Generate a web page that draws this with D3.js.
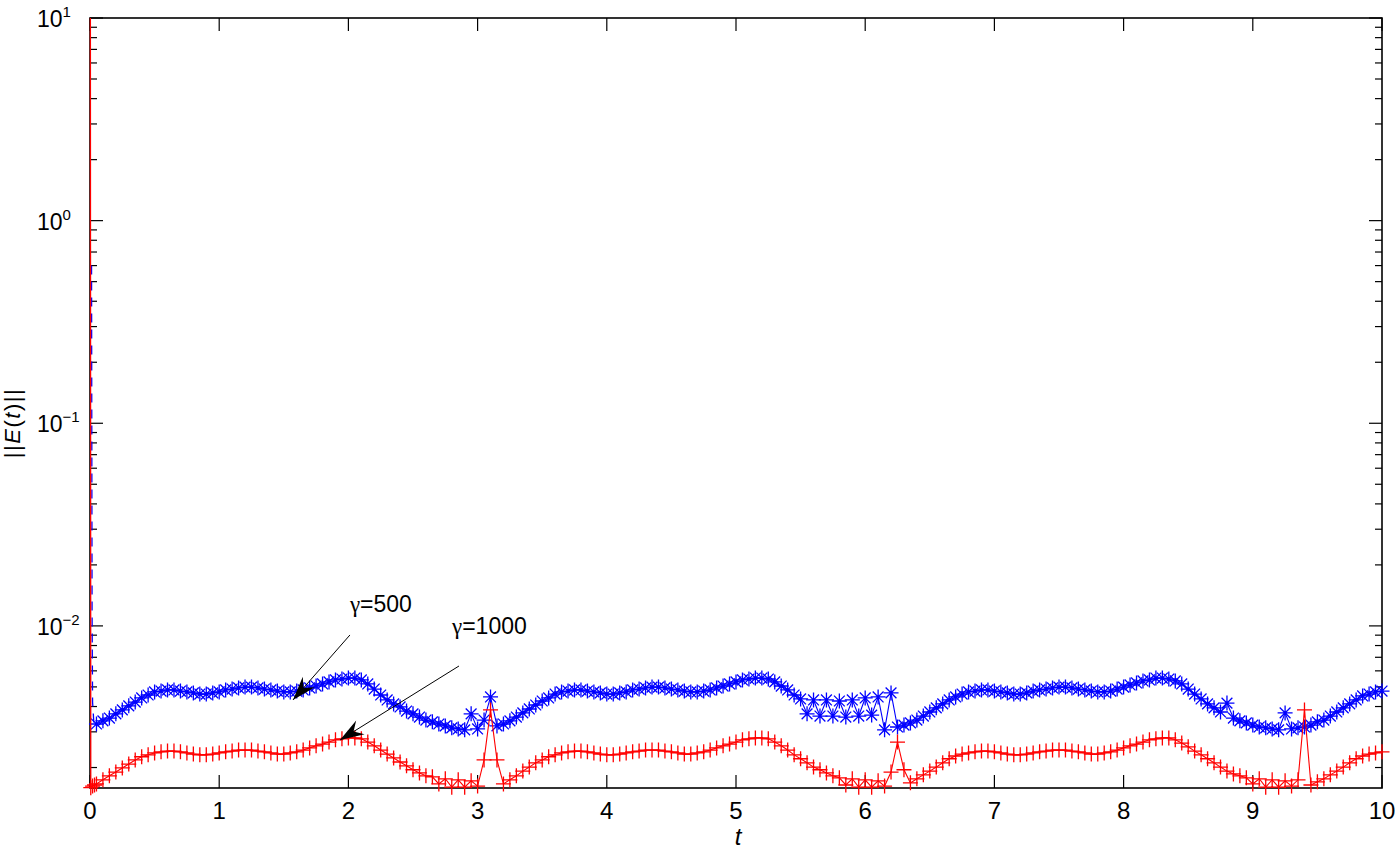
<!DOCTYPE html>
<html>
<head>
<meta charset="utf-8">
<script src="https://cdn.jsdelivr.net/npm/d3@7"></script>
<style>
  body { margin: 0; background: #fff; }
  text { font-family: "Liberation Sans", Arial, Helvetica, sans-serif; }
</style>
</head>
<body>
<svg width="1395" height="849"></svg>
<script>
// samples on a regular grid: t = 0.05, 0.10, ... 10.00 (values in units of 1e-3)
const tStart = 0.05, tStep = 0.05;

// gamma = 500 (blue, "*")
const blue500 = [
  3.28, 3.40, 3.51, 3.68, 3.85, 4.03, 4.21, 4.41, 4.56, 4.72,
  4.77, 4.83, 4.83, 4.77, 4.72, 4.67, 4.61, 4.61, 4.67, 4.72,
  4.83, 4.88, 4.94, 4.99, 4.99, 4.94, 4.88, 4.83, 4.77, 4.72,
  4.72, 4.77, 4.83, 4.94, 5.05, 5.17, 5.29, 5.41, 5.47, 5.53,
  5.53, 5.41, 5.17, 4.88, 4.56, 4.31, 4.12, 3.98, 3.80, 3.68,
  3.55, 3.43, 3.36, 3.28, 3.21, 3.14, 3.10, 3.07, 3.68, 3.10,
  3.43, 4.46, 3.21, 3.28, 3.40, 3.55, 3.72, 3.89, 4.07, 4.26,
  4.41, 4.61, 4.72, 4.77, 4.83, 4.83, 4.77, 4.72, 4.67, 4.61,
  4.61, 4.67, 4.72, 4.83, 4.88, 4.94, 4.99, 4.99, 4.94, 4.88,
  4.83, 4.77, 4.72, 4.72, 4.77, 4.83, 4.94, 5.05, 5.17, 5.29,
  5.41, 5.47, 5.53, 5.53, 5.47, 5.29, 5.05, 4.83, 4.56, 4.36,
  3.68, 4.31, 3.59, 4.31, 3.59, 4.26, 3.55, 4.31, 3.59, 4.41,
  3.63, 4.46, 3.07, 4.67, 3.17, 3.24, 3.32, 3.43, 3.59, 3.76,
  3.94, 4.12, 4.31, 4.46, 4.61, 4.72, 4.77, 4.83, 4.83, 4.77,
  4.72, 4.67, 4.61, 4.61, 4.67, 4.77, 4.83, 4.88, 4.94, 4.99,
  4.99, 4.94, 4.88, 4.83, 4.77, 4.72, 4.72, 4.77, 4.88, 4.99,
  5.11, 5.23, 5.35, 5.41, 5.53, 5.53, 5.47, 5.35, 5.17, 4.88,
  4.61, 4.36, 4.12, 3.94, 3.76, 4.16, 3.51, 3.40, 3.32, 3.24,
  3.17, 3.14, 3.10, 3.07, 3.72, 3.10, 3.14, 3.17, 3.24, 3.36,
  3.43, 3.59, 3.76, 3.94, 4.12, 4.31, 4.51, 4.61, 4.72, 4.77
];

// gamma = 1000 (red, "+")
const red1000 = [
  1.66, 1.74, 1.82, 1.90, 1.99, 2.08, 2.18, 2.26, 2.31, 2.36,
  2.39, 2.41, 2.41, 2.39, 2.36, 2.33, 2.31, 2.31, 2.33, 2.36,
  2.39, 2.41, 2.44, 2.44, 2.44, 2.41, 2.39, 2.36, 2.33, 2.33,
  2.36, 2.39, 2.44, 2.50, 2.56, 2.61, 2.67, 2.74, 2.77, 2.80,
  2.80, 2.77, 2.67, 2.56, 2.44, 2.33, 2.23, 2.13, 2.04, 1.95,
  1.88, 1.82, 1.80, 1.66, 1.76, 1.60, 1.74, 1.60, 1.72, 1.62,
  2.18, 3.85, 2.18, 1.66, 1.74, 1.82, 1.92, 2.01, 2.11, 2.18,
  2.26, 2.31, 2.36, 2.39, 2.41, 2.41, 2.39, 2.36, 2.33, 2.31,
  2.31, 2.33, 2.36, 2.39, 2.41, 2.44, 2.44, 2.44, 2.41, 2.39,
  2.36, 2.33, 2.33, 2.36, 2.39, 2.44, 2.50, 2.56, 2.61, 2.67,
  2.74, 2.77, 2.80, 2.80, 2.77, 2.67, 2.56, 2.44, 2.31, 2.21,
  2.11, 2.01, 1.95, 1.88, 1.82, 1.78, 1.64, 1.76, 1.60, 1.74,
  1.60, 1.72, 1.62, 1.90, 2.67, 1.95, 1.68, 1.76, 1.84, 1.92,
  2.01, 2.11, 2.21, 2.28, 2.33, 2.36, 2.39, 2.41, 2.41, 2.39,
  2.36, 2.33, 2.31, 2.31, 2.33, 2.36, 2.39, 2.41, 2.44, 2.44,
  2.44, 2.41, 2.39, 2.36, 2.33, 2.33, 2.36, 2.39, 2.44, 2.50,
  2.56, 2.61, 2.67, 2.74, 2.77, 2.80, 2.80, 2.74, 2.64, 2.53,
  2.41, 2.31, 2.21, 2.11, 2.01, 1.92, 1.86, 1.82, 1.78, 1.66,
  1.76, 1.60, 1.74, 1.60, 1.72, 1.62, 1.74, 3.85, 1.64, 1.70,
  1.76, 1.84, 1.92, 2.01, 2.11, 2.21, 2.28, 2.33, 2.36, 2.39
];

// initial transient, before the regular grid (actual values)
const blueHeadT = [0.012, 0.016, 0.02, 0.03];
const blueHeadV = [0.6, 0.012, 0.0042, 0.0033];
const redHeadT = [0.003, 0.006, 0.02, 0.035];
const redHeadV = [10, 0.00159, 0.00162, 0.00164];

const xTicks = [0, 1, 2, 3, 4, 5, 6, 7, 8, 9, 10];
const yExponents = [-2, -1, 0, 1];

// annotations: [text, text t, text value, arrow start t, start value, arrow tip t, tip value]
const notes = [
  ["500", 2.012, 1.171e-2, 2.012, 9.02e-3, 1.571, 4.31e-3],
  ["1000", 2.802, 9.12e-3, 2.856, 6.34e-3, 1.935, 2.734e-3]
];

const svg = d3.select("svg"),
    margin = { top: 18, right: 13, bottom: 61, left: 90 },
    width = +svg.attr("width") - margin.left - margin.right,
    height = +svg.attr("height") - margin.top - margin.bottom;

const x = d3.scaleLinear().domain([0, 10]).range([0, width]),
    y = d3.scaleLog().domain([Math.pow(10, -2.8), 10]).range([height, 0]),
    g = svg.append("g").attr("transform", `translate(${margin.left},${margin.top})`);

// axes box (drawn first, data goes on top)
g.append("rect")
    .attr("width", width)
    .attr("height", height)
    .attr("fill", "none")
    .attr("stroke", "#000")
    .attr("stroke-width", 1.6);

// ticks (inward, on all four sides)
const tickStroke = "#000";
xTicks.forEach(t => {
    g.append("line").attr("x1", x(t)).attr("x2", x(t)).attr("y1", height).attr("y2", height - 13)
        .attr("stroke", tickStroke).attr("stroke-width", 1.2);
    g.append("line").attr("x1", x(t)).attr("x2", x(t)).attr("y1", 0).attr("y2", 13)
        .attr("stroke", tickStroke).attr("stroke-width", 1.2);
    g.append("text")
        .attr("x", x(t))
        .attr("y", height + 31)
        .attr("text-anchor", "middle")
        .attr("font-size", "24px")
        .text(t);
});

const minorTicks = [];
for (let e = -3; e <= 0; e++) {
    for (let m = 2; m <= 9; m++) {
        const v = m * Math.pow(10, e);
        if (v >= y.domain()[0] && v <= 10) minorTicks.push(v);
    }
}
minorTicks.forEach(v => {
    [[0, 7], [width, width - 7]].forEach(([a, b]) => {
        g.append("line").attr("x1", a).attr("x2", b).attr("y1", y(v)).attr("y2", y(v))
            .attr("stroke", tickStroke).attr("stroke-width", 1.2);
    });
});
yExponents.forEach(e => {
    const v = Math.pow(10, e);
    [[0, 13], [width, width - 13]].forEach(([a, b]) => {
        g.append("line").attr("x1", a).attr("x2", b).attr("y1", y(v)).attr("y2", y(v))
            .attr("stroke", tickStroke).attr("stroke-width", 1.2);
    });
    const lab = g.append("text")
        .attr("x", 37 - margin.left)
        .attr("y", y(v) + 9)
        .attr("font-size", "23px");
    lab.append("tspan").text("10");
    lab.append("tspan")
        .attr("dy", -10)
        .attr("font-size", "15px")
        .text(e < 0 ? "\u2212" + (-e) : e);
});

const headPts = (headT, headV) => headT.map((t, i) => ({ t: t, v: headV[i] }));
const gridPts = vals => vals.map((v, i) => ({ t: tStart + i * tStep, v: v * 1e-3 }));

const line = d3.line().x(d => x(d.t)).y(d => y(d.v));

// marker shapes
const plusPath = s => `M${-s},0H${s}M0,${-s}V${s}`;
const starPath = s => {
    const d = s * 0.72;
    return plusPath(s) + `M${-d},${-d}L${d},${d}M${-d},${d}L${d},${-d}`;
};

function drawSeries(head, pts, color, shape, headDash, headMarks) {
    const headLine = head.concat(pts.slice(0, 1));
    g.append("path")
        .datum(headLine)
        .attr("d", line)
        .attr("fill", "none")
        .attr("stroke", color)
        .attr("stroke-width", 1.3)
        .attr("stroke-dasharray", headDash);
    g.append("path")
        .datum(pts)
        .attr("d", line)
        .attr("fill", "none")
        .attr("stroke", color)
        .attr("stroke-width", 1.1);
    g.append("g").selectAll("path")
        .data(headMarks ? head.slice(1).concat(pts) : pts)
        .join("path")
        .attr("transform", d => `translate(${x(d.t)},${y(d.v)})`)
        .attr("d", shape(7.5))
        .attr("fill", "none")
        .attr("stroke", color)
        .attr("stroke-width", 1.3);
}

drawSeries(headPts(blueHeadT, blueHeadV), gridPts(blue500), "#0000ff", starPath, "9,7", false);
drawSeries(headPts(redHeadT, redHeadV), gridPts(red1000), "#ff0000", plusPath, null, true);

// axis labels
svg.append("text")
    .attr("x", margin.left + width / 2 + 2)
    .attr("y", 845)
    .attr("text-anchor", "middle")
    .attr("font-size", "24px")
    .attr("font-style", "italic")
    .text("t");

const yl = svg.append("text")
    .attr("transform", `translate(20,${margin.top + height / 2 + 20}) rotate(-90)`)
    .attr("text-anchor", "middle")
    .attr("font-size", "22px")
    .attr("letter-spacing", "1.5px");
yl.append("tspan").text("||");
yl.append("tspan").attr("font-style", "italic").text("E");
yl.append("tspan").text("(");
yl.append("tspan").attr("font-style", "italic").text("t");
yl.append("tspan").text(")||");

// annotation arrows
notes.forEach(([label, tt, tv, t0, v0, t1, v1]) => {
    const txt = g.append("text")
        .attr("x", x(tt))
        .attr("y", y(tv))
        .attr("font-size", "23px");
    txt.append("tspan").attr("font-family", "'Liberation Serif', 'Times New Roman', serif").text("\u03b3");
    txt.append("tspan").text("=" + label);

    const xa = x(t0), ya = y(v0), xb = x(t1), yb = y(v1);
    const ang = Math.atan2(yb - ya, xb - xa) * 180 / Math.PI;
    g.append("line")
        .attr("x1", xa).attr("y1", ya).attr("x2", xb).attr("y2", yb)
        .attr("stroke", "#000").attr("stroke-width", 1);
    g.append("path")
        .attr("transform", `translate(${xb},${yb}) rotate(${ang})`)
        .attr("d", "M0,0L-24,-8L-16,0L-24,8Z")
        .attr("fill", "#000");
});
</script>
</body>
</html>
